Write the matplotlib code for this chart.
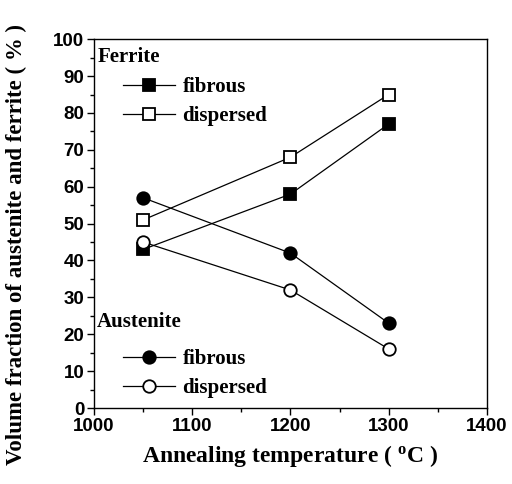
import matplotlib
matplotlib.use("Agg")
import matplotlib.pyplot as plt
from matplotlib.ticker import MultipleLocator

temps = [1050, 1200, 1300]
ferrite_fibrous = [43, 58, 77]
ferrite_dispersed = [51, 68, 85]
austenite_fibrous = [57, 42, 23]
austenite_dispersed = [45, 32, 16]

SERIF = "Liberation Serif"
SANS = "Liberation Sans"
plt.rcParams["font.family"] = SANS
plt.rcParams["font.weight"] = "bold"
plt.rcParams["mathtext.default"] = "regular"

fig = plt.figure(figsize=(5.12, 4.84), dpi=100)
ax = fig.add_axes([0.1836, 0.157, 0.7674, 0.762])

kw = dict(color="black", lw=0.9, markersize=9, markeredgewidth=1.3)
f1, = ax.plot(temps, ferrite_fibrous, marker="s", markerfacecolor="black", **kw)
f2, = ax.plot(temps, ferrite_dispersed, marker="s", markerfacecolor="white", **kw)
a1, = ax.plot(temps, austenite_fibrous, marker="o", markerfacecolor="black", **kw)
a2, = ax.plot(temps, austenite_dispersed, marker="o", markerfacecolor="white", **kw)

ax.set_xlim(1000, 1400)
ax.set_ylim(0, 100)
ax.xaxis.set_major_locator(MultipleLocator(100))
ax.xaxis.set_minor_locator(MultipleLocator(50))
ax.yaxis.set_major_locator(MultipleLocator(10))
ax.yaxis.set_minor_locator(MultipleLocator(5))
ax.tick_params(which="major", direction="out", length=5, width=1, labelsize=13.5, pad=2)
ax.tick_params(which="minor", direction="out", length=3, width=1)
for s in ax.spines.values():
    s.set_linewidth(1)

ax.set_xlabel("Annealing temperature ( $^{o}$C )", fontfamily=SERIF,
              fontweight="bold", fontsize=17, labelpad=6)
ax.set_ylabel("Volume fraction of austenite and ferrite ( % )", fontfamily=SERIF,
              fontweight="bold", fontsize=16.5)
ax.yaxis.set_label_coords(-0.17, 0.444)

leg_font = dict(family=SERIF, weight="bold", size=15)
ax.text(0.008, 0.951, "Ferrite", transform=ax.transAxes, ha="left", va="center",
        fontfamily=SERIF, fontweight="bold", fontsize=15)
ax.text(0.008, 0.233, "Austenite", transform=ax.transAxes, ha="left", va="center",
        fontfamily=SERIF, fontweight="bold", fontsize=15)

leg_kw = dict(frameon=False, prop=leg_font, handlelength=2.5, handletextpad=0.35,
              labelspacing=0.45, borderpad=0, borderaxespad=0, loc="upper left")
leg1 = ax.legend([f1, f2], ["fibrous", "dispersed"],
                 bbox_to_anchor=(0.074, 0.898), **leg_kw)
ax.add_artist(leg1)
ax.legend([a1, a2], ["fibrous", "dispersed"],
          bbox_to_anchor=(0.074, 0.16), **leg_kw)

fig.savefig("out.png", dpi=100)
